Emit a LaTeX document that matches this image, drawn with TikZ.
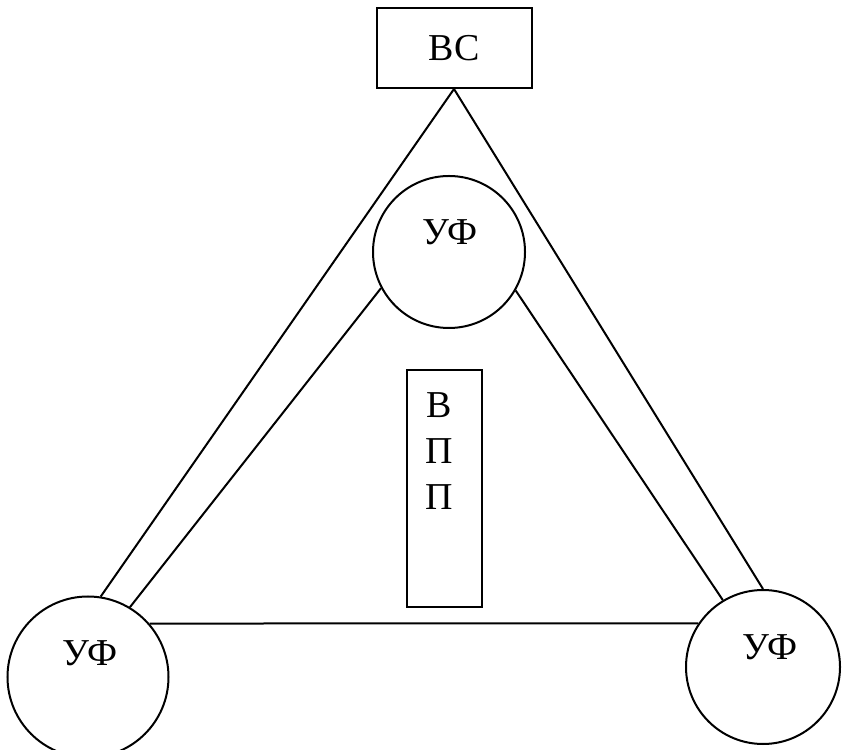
\documentclass[tikz,border=0pt]{standalone}
\usepackage{fontspec}
\setmainfont{Liberation Serif}
\begin{document}
\begin{tikzpicture}[x=1pt, y=1pt, line width=2pt,
  every node/.style={font=\fontsize{38}{46}\selectfont},
  ufcircle/.style={draw, circle, inner sep=0pt},
  plainbox/.style={draw, rectangle, inner sep=0pt}]
\clip (0,0) rectangle (842,749);
\node[plainbox, minimum width=155pt, minimum height=80pt] (bc) at (454,701) {ВС};
\node[ufcircle, minimum size=152pt] (uf1) at (449,497) {};
\node[ufcircle, minimum size=161pt] (uf2) at (88,72) {};
\node[ufcircle, minimum size=154pt] (uf3) at (763,82) {};
\node (uf1t) at (450,517) {УФ};
\node (uf2t) at (90,96) {УФ};
\node (uf3t) at (770,102) {УФ};
\node[plainbox, minimum width=75pt, minimum height=237pt] (vpp) at (444.5,260.5) {};
\node[align=center] (vppt) at (439,298) {В\\П\\П};
\draw (bc.south) -- (uf2.81.5);
\draw (bc.south) -- (uf3.90);
\draw (uf1.208) -- (uf2.59);
\draw (uf1.330) -- (uf3.121);
\draw (uf2.41) -- (uf3.146);
\end{tikzpicture}
\end{document}
